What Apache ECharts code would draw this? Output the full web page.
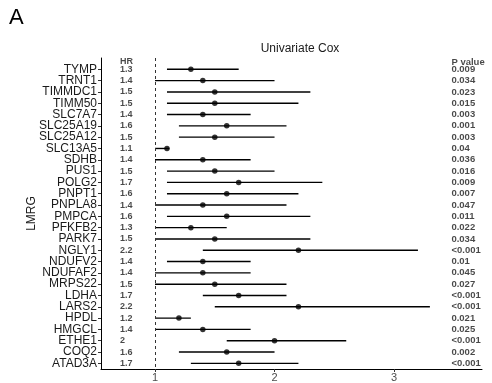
<!DOCTYPE html>
<html>
<head>
<meta charset="utf-8">
<script src="https://cdn.jsdelivr.net/npm/echarts@6/dist/echarts.min.js"></script>
<style>
html, body { margin: 0; padding: 0; background: #fff; }
#chart { width: 492px; height: 383px; }
</style>
</head>
<body>
<div id="chart"></div>
<script>
// genes, top to bottom
var genes = ['TYMP','TRNT1','TIMMDC1','TIMM50','SLC7A7','SLC25A19','SLC25A12','SLC13A5','SDHB','PUS1',
    'POLG2','PNPT1','PNPLA8','PMPCA','PFKFB2','PARK7','NGLY1','NDUFV2','NDUFAF2','MRPS22',
    'LDHA','LARS2','HPDL','HMGCL','ETHE1','COQ2','ATAD3A'];
var hr    = [1.3,1.4,1.5,1.5,1.4,1.6,1.5,1.1,1.4,1.5,1.7,1.6,1.4,1.6,1.3,1.5,2.2,1.4,1.4,1.5,1.7,2.2,1.2,1.4,2,1.6,1.7];
var lower = [1.1,1.0,1.1,1.1,1.1,1.2,1.2,1.0,1.0,1.1,1.1,1.1,1.0,1.1,1.0,1.0,1.4,1.1,1.0,1.0,1.4,1.5,1.0,1.0,1.6,1.2,1.3];
var upper = [1.7,2.0,2.3,2.2,1.8,2.1,2.0,1.12,1.8,2.0,2.4,2.2,2.1,2.3,1.6,2.3,3.2,1.8,1.8,2.1,2.1,3.3,1.3,1.8,2.6,2.0,2.2];
var pval  = ['0.009','0.034','0.023','0.015','0.003','0.001','0.003','0.04','0.036','0.016',
    '0.009','0.007','0.047','0.011','0.022','0.034','<0.001','0.01','0.045','0.027',
    '<0.001','<0.001','0.021','0.025','<0.001','0.002','<0.001'];
var xTicks = [1, 2, 3];

var FONT = 'Liberation Sans, Arial, sans-serif';
var hrCol = 0.707, pCol = 3.48, headRow = -0.65;
var yMin = -1, yMax = 26.5;

var rows = genes.map(function (g, i) { return i; });
// blank labels at the axis ends so no gene label is treated as min/max label
var labelVals = [yMin].concat(rows).concat([yMax]);
var chart = echarts.init(document.getElementById('chart'));

var option = {
    animation: false,
    backgroundColor: '#fff',
    title: [{
        text: 'A', left: 4, top: 2,
        textStyle: { fontFamily: FONT, fontSize: 22, fontWeight: 'normal', color: '#000' }
    }, {
        text: 'Univariate Cox', left: 295, top: 38, textAlign: 'center',
        textStyle: { fontFamily: FONT, fontSize: 12, fontWeight: 'normal', color: '#1a1a1a' }
    }],
    grid: { left: 101, right: 10, top: 58, bottom: 14 },
    xAxis: {
        type: 'value', min: 0.548, max: 3.736,
        axisLine: { onZero: false, lineStyle: { color: '#000', width: 1 } },
        axisTick: { customValues: xTicks, length: 3, lineStyle: { color: '#333' } },
        axisLabel: { customValues: xTicks, margin: 3, fontFamily: FONT, fontSize: 11, color: '#4d4d4d' },
        splitLine: { show: false }
    },
    yAxis: {
        type: 'value', inverse: true, min: yMin, max: yMax,
        name: 'LMRG', nameLocation: 'middle', nameRotate: 90, nameGap: 63, nameMoveOverlap: false,
        nameTextStyle: { fontFamily: FONT, fontSize: 12, color: '#1a1a1a' },
        axisLine: { show: true, onZero: false, lineStyle: { color: '#000', width: 1 } },
        axisTick: { show: true, customValues: rows, length: 3, lineStyle: { color: '#333' } },
        axisLabel: {
            customValues: labelVals, margin: 4, fontFamily: FONT, fontSize: 12, lineHeight: 10,
            color: '#1a1a1a', hideOverlap: false,
            formatter: function (v) {
                var i = Math.round(v);
                return (Math.abs(v - i) < 1e-6 && genes[i]) ? genes[i] : '';
            }
        },
        splitLine: { show: false }
    },
    series: [{
        type: 'custom',
        data: rows.map(function (i) { return [lower[i], upper[i], i]; }),
        renderItem: function (params, api) {
            var a = api.coord([api.value(0), api.value(2)]);
            var b = api.coord([api.value(1), api.value(2)]);
            return { type: 'line', shape: { x1: a[0], y1: a[1], x2: b[0], y2: b[1] },
                style: { stroke: '#000', lineWidth: 1.4 } };
        },
        markLine: {
            silent: true, symbol: 'none', label: { show: false },
            lineStyle: { color: '#333', type: [3, 3], width: 1 },
            data: [{ xAxis: 1 }]
        },
        z: 2
    }, {
        type: 'scatter',
        symbol: 'circle', symbolSize: 5.5,
        itemStyle: { color: '#000' },
        data: rows.map(function (i) { return [hr[i], i]; }),
        z: 3
    }, {
        // HR column
        type: 'scatter', symbolSize: 0,
        data: rows.map(function (i) { return [hrCol, i, String(hr[i])]; })
            .concat([[hrCol, headRow, 'HR']]),
        label: {
            show: true, position: 'right', distance: 0,
            fontFamily: FONT, fontSize: 9, fontWeight: 'bold', color: '#1a1a1a',
            formatter: function (p) { return p.value[2]; }
        }
    }, {
        // P value column
        type: 'scatter', symbolSize: 0,
        data: rows.map(function (i) { return [pCol, i, pval[i]]; })
            .concat([[pCol, headRow, 'P value']]),
        label: {
            show: true, position: 'right', distance: 0,
            fontFamily: FONT, fontSize: 9.5, fontWeight: 'bold', color: '#1a1a1a',
            formatter: function (p) { return p.value[2]; }
        }
    }]
};

chart.setOption(option);
</script>
</body>
</html>
